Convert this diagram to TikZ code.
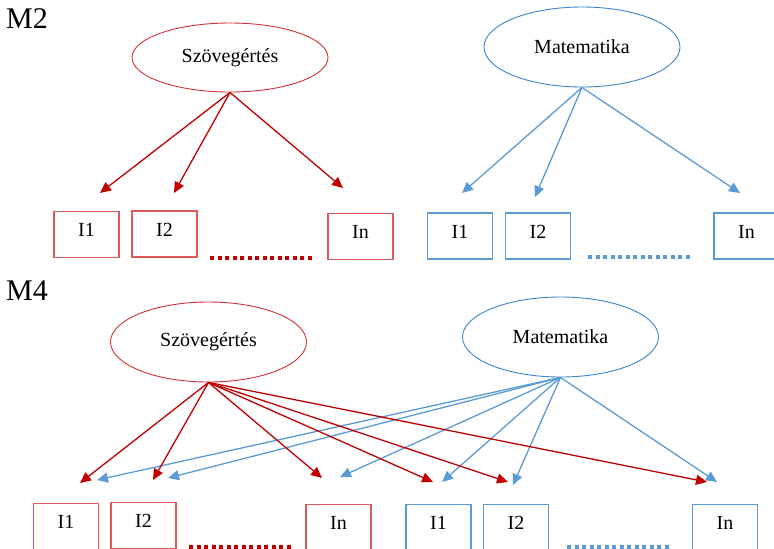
\documentclass[tikz,border=0pt]{standalone}
\usepackage{fontspec}
\setmainfont{Liberation Serif}
\usetikzlibrary{shapes.geometric,arrows.meta}

\definecolor{darkred}{HTML}{C00000}
\definecolor{boxred}{HTML}{DC5A5A}
\definecolor{ovalred}{HTML}{D23232}
\definecolor{skyblue}{HTML}{5B9BD5}
\definecolor{ovalblue}{HTML}{3A86CC}

\begin{document}
\begin{tikzpicture}[x=1pt, y=-1pt,
  lbl/.style={font=\fontsize{20}{24}\selectfont},
  latent/.style={ellipse, draw, line width=0.9pt, minimum width=196pt, inner sep=0pt, lbl},
  item/.style={rectangle, draw, line width=1.2pt, minimum width=65pt, inner xsep=0pt,
    inner ysep=9pt, text height=16pt, text depth=12pt, lbl},
  path/.style={line width=1.3pt, -{Triangle[length=11pt,width=10pt]}},
  more/.style={line width=3.5pt, dash pattern=on 4pt off 3.5pt}]
  \clip (0,0) rectangle (774,549);

  % ---------------- M2 ----------------
  \node[anchor=base west, inner sep=0pt, font=\fontsize{30}{34}\selectfont] (m2lbl) at (6,28) {M2};

  % Factors
  \node[latent, draw=ovalred, minimum height=69pt] (sz1) at (230,57.5) {Szövegértés};
  \node[latent, draw=ovalblue, minimum height=80pt] (ma1) at (582,47) {Matematika};

  % Indicators
  \node[item, draw=boxred] (sza) at (86.5,234.5) {I1};
  \node[item, draw=boxred] (szb) at (164.5,234) {I2};
  \node[item, draw=boxred] (szn) at (360.5,236.5) {In};
  \node[item, draw=skyblue] (maa) at (460,236) {I1};
  \node[item, draw=skyblue] (mab) at (538,236) {I2};
  \node[item, draw=skyblue] (man) at (746.5,236) {In};

  % Dots between indicators
  \draw[more, darkred] (210,258) coordinate (d1) -- (315,258) coordinate (d2);
  \draw[more, skyblue] (588,257) coordinate (d3) -- (693,257) coordinate (d4);

  % Arrow tips
  \coordinate (t1) at (100,193);
  \coordinate (t2) at (174,193);
  \coordinate (t3) at (343,188);
  \coordinate (t4) at (462,193);
  \coordinate (t5) at (535,197);
  \coordinate (t6) at (740,193);

  % Loadings
  \draw[path, darkred] (sz1.south) -- (t1);
  \draw[path, darkred] (sz1.south) -- (t2);
  \draw[path, darkred] (sz1.south) -- (t3);
  \draw[path, skyblue] (ma1.south) -- (t4);
  \draw[path, skyblue] (ma1.south) -- (t5);
  \draw[path, skyblue] (ma1.south) -- (t6);

  % ---------------- M4 ----------------
  \node[anchor=base west, inner sep=0pt, font=\fontsize{30}{34}\selectfont] (m4lbl) at (6,300) {M4};

  % Factors
  \node[latent, draw=ovalred, minimum height=80pt] (sz2) at (208.5,342) {Szövegértés};
  \node[latent, draw=ovalblue, minimum height=80pt] (ma2) at (560.5,337) {Matematika};

  % Indicators
  \node[item, draw=boxred] (szc) at (66,526.5) {I1};
  \node[item, draw=boxred] (szd) at (143.5,525.5) {I2};
  \node[item, draw=boxred] (szm) at (338.5,527.5) {In};
  \node[item, draw=skyblue] (mac) at (438.5,527.5) {I1};
  \node[item, draw=skyblue] (mad) at (516,527.5) {I2};
  \node[item, draw=skyblue] (mam) at (725,527.5) {In};

  % Dots between indicators
  \draw[more, darkred] (189,547) coordinate (d5) -- (292,547) coordinate (d6);
  \draw[more, skyblue] (567,547) coordinate (d7) -- (671,547) coordinate (d8);

  % Arrow tips
  \coordinate (r1) at (80,483);
  \coordinate (r2) at (153,480);
  \coordinate (r3) at (322,478);
  \coordinate (r4) at (433,482);
  \coordinate (r5) at (508,482);
  \coordinate (r6) at (707,482);
  \coordinate (b1) at (97,480);
  \coordinate (b2) at (168,478);
  \coordinate (b3) at (340,477);
  \coordinate (b4) at (442,482);
  \coordinate (b5) at (513,485);
  \coordinate (b6) at (717,482);

  % Loadings
  \draw[path, skyblue] (ma2.south) -- (b1);
  \draw[path, skyblue] (ma2.south) -- (b2);
  \draw[path, skyblue] (ma2.south) -- (b3);
  \draw[path, skyblue] (ma2.south) -- (b4);
  \draw[path, skyblue] (ma2.south) -- (b5);
  \draw[path, skyblue] (ma2.south) -- (b6);
  \draw[path, darkred] (sz2.south) -- (r1);
  \draw[path, darkred] (sz2.south) -- (r2);
  \draw[path, darkred] (sz2.south) -- (r3);
  \draw[path, darkred] (sz2.south) -- (r4);
  \draw[path, darkred] (sz2.south) -- (r5);
  \draw[path, darkred] (sz2.south) -- (r6);
\end{tikzpicture}
\end{document}
